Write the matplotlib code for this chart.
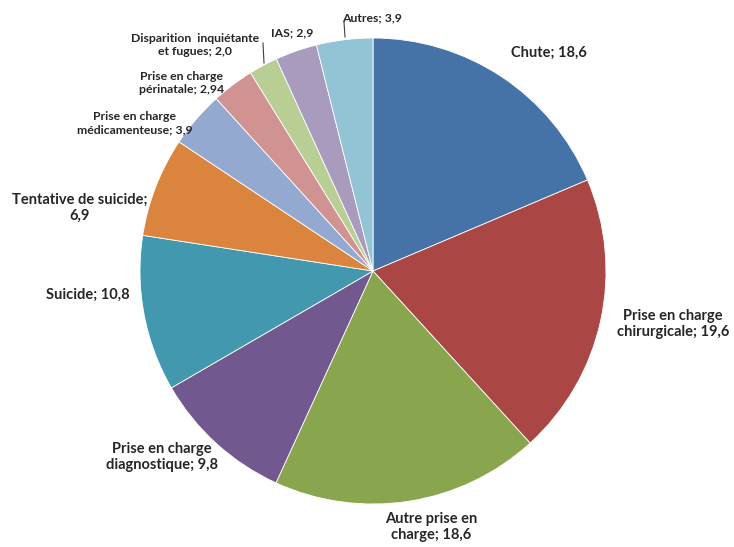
import matplotlib
matplotlib.use("Agg")
import matplotlib.pyplot as plt

plt.rcParams['font.family'] = ['Lato', 'DejaVu Sans']

categories = ['Chute', 'Prise en charge\nchirurgicale', 'Autre prise en\ncharge',
              'Prise en charge\ndiagnostique', 'Suicide', 'Tentative de suicide;\n',
              'Prise en charge\nmédicamenteuse', 'Prise en charge\npérinatale',
              'Disparition  inquiétante\net fugues', 'IAS', 'Autres']
values = [18.6, 19.6, 18.6, 9.8, 10.8, 6.9, 3.9, 2.94, 2.0, 2.9, 3.9]
value_text = ['18,6', '19,6', '18,6', '9,8', '10,8', '6,9', '3,9', '2,94', '2,0', '2,9', '3,9']

colors = ['#4572A7', '#AA4643', '#89A54E', '#71588F', '#4198AF', '#DB843D',
          '#93A9D0', '#D09392', '#B9CE95', '#A99BBD', '#92C4D6']

# layout (pixels in the 734x547 image)
W, H = 734, 547
cx, cy, R = 373, 271, 233
label_xy = [(549, 53), (673, 324), (431, 527), (162, 457), (88, 295), (80, 208),
            (135, 123), (182, 83), (195, 45), (292, 33), (372, 18)]
small = [False, False, False, False, False, False, True, True, True, True, True]


def to_data(px, py):
    return (px - cx) / R, (cy - py) / R


fig = plt.figure(figsize=(W / 100, H / 100), dpi=100)
ax = fig.add_axes([0, 0, 1, 1])
ax.pie(values, colors=colors, startangle=90, counterclock=False, radius=1,
       wedgeprops=dict(edgecolor='white', linewidth=0.6))
ax.set_xlim(-cx / R, (W - cx) / R)
ax.set_ylim(-(H - cy) / R, cy / R)
ax.axis('off')

for cat, vt, (px, py), sm in zip(categories, value_text, label_xy, small):
    if cat.endswith(';\n'):
        txt = cat + vt
    else:
        txt = f'{cat}; {vt}'
    x, y = to_data(px, py)
    ax.text(x, y, txt, ha='center', va='center', fontsize=8.8 if sm else 10.5,
            fontweight='bold', color='#262626', linespacing=1.2)

# leader lines
for (x0, y0), (x1, y1) in [((263, 43), (264, 63)), ((344, 22), (345, 37))]:
    a = to_data(x0, y0)
    b = to_data(x1, y1)
    ax.plot([a[0], b[0]], [a[1], b[1]], color='#404040', lw=0.8)

fig.savefig('out.png', dpi=100)
